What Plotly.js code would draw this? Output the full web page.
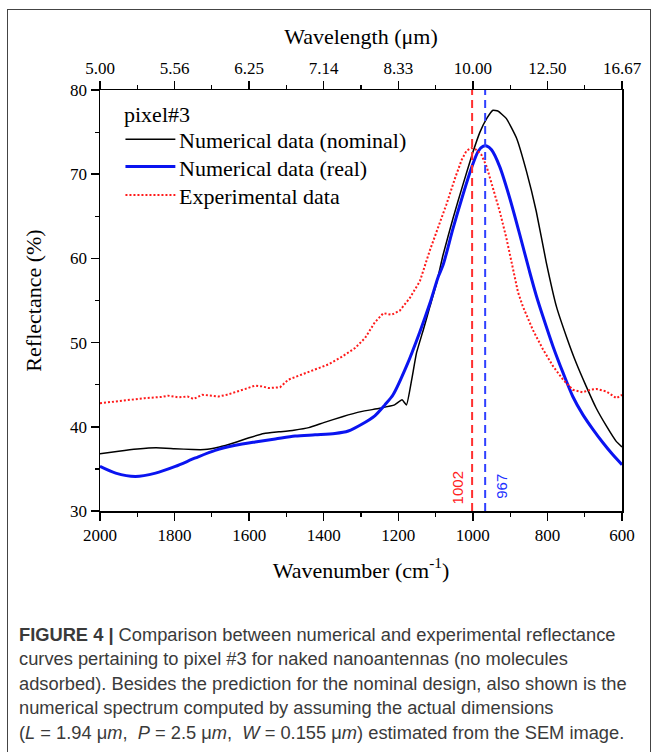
<!DOCTYPE html>
<html>
<head>
<meta charset="utf-8">
<script src="https://cdn.plot.ly/plotly-3.0.1.min.js"></script>
<style>
  html, body { margin: 0; padding: 0; background: #fff; }
  #frame { position: absolute; left: 7px; top: 9px; width: 644px; height: 800px; border: 1px solid #444; box-sizing: border-box; }
  #chart { position: absolute; left: 0; top: 0; width: 657px; height: 752px; }
</style>
</head>
<body>
<div id="frame"></div>
<div id="chart"></div>
<script>
// ---- data ----
const nominalWn = [2000,1950,1900,1850,1800,1750,1720,1680,1640,1600,1560,1520,1480,1440,1400,1350,1300,1250,1210,1190,1178,1164,1151,1133,1115,1097,1080,1053,1027,1000,981,963,946,933,910,883,856,830,803,776,749,723,696,669,642,616,600];
const nominalR  = [36.8,37.1,37.35,37.5,37.4,37.3,37.3,37.6,38.1,38.7,39.2,39.4,39.6,39.9,40.5,41.2,41.8,42.2,42.6,43.2,42.6,45.6,48.8,51.5,54.3,57.1,60.4,64.8,68.7,72.6,75.0,76.6,77.6,77.5,76.6,74.3,70.3,65.6,59.5,54.3,50.7,47.6,44.8,42.2,40.1,38.3,37.6];

const realWn = [2000,1958,1905,1851,1798,1744,1691,1637,1584,1530,1477,1423,1370,1334,1298,1263,1236,1214,1178,1142,1115,1093,1080,1053,1027,1004,986,973,963,950,928,901,874,848,830,812,785,758,732,705,678,651,625,600];
const realR  = [35.3,34.5,34.1,34.5,35.3,36.3,37.2,37.8,38.2,38.55,38.9,39.05,39.2,39.5,40.3,41.3,42.6,43.8,47.2,51.3,54.7,57.8,59.2,63.6,67.5,70.7,72.7,73.3,73.35,72.9,70.9,67.15,62.8,58.45,55.6,53.1,49.55,46.4,43.6,41.45,39.7,38.1,36.7,35.5];

const expWn = [2000,1960,1923,1880,1834,1817,1790,1765,1749,1726,1700,1682,1660,1637,1610,1584,1565,1548,1517,1495,1470,1441,1415,1388,1352,1316,1289,1263,1240,1218,1196,1169,1142,1133,1115,1097,1071,1048,1030,1017,1004,990,977,963,946,928,910,892,879,866,839,812,785,758,732,705,685,669,642,615,600];
const expR  = [42.8,43.0,43.2,43.4,43.55,43.7,43.5,43.6,43.3,43.8,43.7,43.6,43.8,44.1,44.5,44.9,44.8,44.6,44.7,45.6,46.0,46.5,46.9,47.4,48.3,49.35,50.55,52.4,53.5,53.3,53.8,55.3,57.3,58.6,61.0,63.2,66.4,69.5,71.7,72.8,73.1,72.9,72.3,70.9,68.3,65.6,62.4,58.6,56.0,54.3,51.5,49.2,47.2,45.6,44.4,44.1,44.4,44.5,44.2,43.4,43.8];

const peakWn = [1002, 967];
const peakLabels = ['1002', '967'];

const wnTicks = [2000,1800,1600,1400,1200,1000,800,600];
const wnTickLabels = ['2000','1800','1600','1400','1200','1000','800','600'];
const wlTickLabels = ['5.00','5.56','6.25','7.14','8.33','10.00','12.50','16.67'];
const rTicks = [30,40,50,60,70,80];

const seriesNames = ['Numerical data (nominal)', 'Numerical data (real)', 'Experimental data'];
const seriesColors = ['#000000', '#0a14f0', '#ff1a1a'];
const legendTitle = 'pixel#3';

const captionLines = [
  '<b>FIGURE 4 |</b> Comparison between numerical and experimental reflectance',
  'curves pertaining to pixel #3 for naked nanoantennas (no molecules',
  'adsorbed). Besides the prediction for the nominal design, also shown is the',
  'numerical spectrum computed by assuming the actual dimensions',
  '(<i>L</i> = 1.94 μ<i>m</i>,  <i>P</i> = 2.5 μ<i>m</i>,  <i>W</i> = 0.155 μ<i>m</i>) estimated from the SEM image.'
];

// ---- chart ----
const serif = 'Liberation Serif, Times New Roman, serif';
const sans = 'Liberation Sans, Arial, sans-serif';

const Lm = 99.5, Rm = 34.5, Tm = 90, Bm = 240.5, W = 657, H = 752;
const pw = W - Lm - Rm, ph = H - Tm - Bm;
const px2x = p => (p - Lm) / pw;
const px2y = p => 1 - (p - Tm) / ph;

const lineStyles = [
  { color: seriesColors[0], width: 1.5, shape: 'spline', smoothing: 0.4 },
  { color: seriesColors[1], width: 3, shape: 'spline', smoothing: 0.8 },
  { color: seriesColors[2], width: 2, dash: '2px,2px' }
];

const traces = [
  { x: nominalWn, y: nominalR, name: seriesNames[0], type: 'scatter', mode: 'lines', line: lineStyles[0] },
  { x: realWn, y: realR, name: seriesNames[1], type: 'scatter', mode: 'lines', line: lineStyles[1] },
  { x: expWn, y: expR, name: seriesNames[2], type: 'scatter', mode: 'lines', line: lineStyles[2] },
  { x: [peakWn[0], peakWn[0]], y: [30, 80], type: 'scatter', mode: 'lines', showlegend: false,
    hoverinfo: 'skip', line: { color: '#ff3030', width: 2, dash: '8px,5px' } },
  { x: [peakWn[1], peakWn[1]], y: [30, 80], type: 'scatter', mode: 'lines', showlegend: false,
    hoverinfo: 'skip', line: { color: '#3040ff', width: 2, dash: '8px,5px' } },
  // carrier so the top (wavelength) axis is drawn
  { x: nominalWn, y: nominalR, xaxis: 'x2', yaxis: 'y', type: 'scatter', mode: 'lines', showlegend: false,
    hoverinfo: 'skip', line: { color: 'rgba(0,0,0,0)', width: 0 } }
];

const annotations = [
  { x: peakWn[0], y: 32.7, xref: 'x', yref: 'y', text: peakLabels[0], textangle: -90, showarrow: false,
    xanchor: 'center', yanchor: 'middle', xshift: -15, font: { family: sans, size: 15, color: '#ff2020' } },
  { x: peakWn[1], y: 32.9, xref: 'x', yref: 'y', text: peakLabels[1], textangle: -90, showarrow: false,
    xanchor: 'center', yanchor: 'middle', xshift: 16, font: { family: sans, size: 15, color: '#2030ff' } }
];

// legend (drawn by hand for exact spacing)
const shapes = [];
annotations.push({ x: px2x(122), y: px2y(115), xref: 'paper', yref: 'paper', text: legendTitle, showarrow: false,
  xanchor: 'left', yanchor: 'middle', font: { family: serif, size: 22, color: '#000' } });
const rowY = [139.3, 166.7, 195];
seriesNames.forEach((nm, i) => {
  shapes.push({ type: 'line', xref: 'paper', yref: 'paper', x0: px2x(125), x1: px2x(175), y0: px2y(rowY[i]), y1: px2y(rowY[i]),
    line: { color: lineStyles[i].color, width: lineStyles[i].width, dash: lineStyles[i].dash || 'solid' } });
  annotations.push({ x: px2x(177), y: px2y(rowY[i] + 1.5), xref: 'paper', yref: 'paper', text: nm, showarrow: false,
    xanchor: 'left', yanchor: 'middle', font: { family: serif, size: 22, color: '#000' } });
});

const capY0 = 635, capDy = 24.5;
captionLines.forEach((t, i) => {
  annotations.push({
    x: px2x(16), y: px2y(capY0 + i * capDy), xref: 'paper', yref: 'paper', text: t, showarrow: false,
    xanchor: 'left', yanchor: 'middle', align: 'left',
    font: { family: sans, size: 18.3, color: '#3a3a3a' }
  });
});

const axisCommon = {
  tickmode: 'array', tickvals: wnTicks,
  ticks: 'outside', ticklen: 8, tickwidth: 1.5, tickcolor: '#000',
  showline: true, linewidth: 1.5, linecolor: '#000', showgrid: false, zeroline: false,
  minor: { tickmode: 'linear', tick0: 600, dtick: 100, ticks: 'outside', ticklen: 4, tickwidth: 1.2, tickcolor: '#000' },
  tickfont: { family: serif, size: 17, color: '#000' },
  automargin: false, range: [2000, 600]
};

const layout = {
  width: W, height: H,
  margin: { l: Lm, r: Rm, t: Tm, b: Bm, pad: 0 },
  paper_bgcolor: 'rgba(0,0,0,0)',
  plot_bgcolor: 'rgba(0,0,0,0)',
  font: { family: serif, color: '#000' },
  showlegend: false,
  xaxis: Object.assign({}, axisCommon, {
    ticktext: wnTickLabels,
    title: { text: 'Wavenumber (cm<sup>-1</sup>)', font: { family: serif, size: 22, color: '#000' }, standoff: 18 }
  }),
  xaxis2: Object.assign({}, axisCommon, {
    overlaying: 'x', side: 'top', anchor: 'y', ticktext: wlTickLabels,
    title: { text: 'Wavelength (μm)', font: { family: serif, size: 22, color: '#000' }, standoff: 8 }
  }),
  yaxis: {
    range: [30, 80], tickmode: 'array', tickvals: rTicks,
    ticks: 'outside', ticklen: 8, tickwidth: 1.5, tickcolor: '#000',
    showline: true, mirror: true, linewidth: 1.5, linecolor: '#000', showgrid: false, zeroline: false,
    minor: { tickmode: 'linear', tick0: 30, dtick: 5, ticks: 'outside', ticklen: 4, tickwidth: 1.2, tickcolor: '#000' },
    tickfont: { family: serif, size: 17, color: '#000' },
    title: { text: 'Reflectance (%)', font: { family: serif, size: 22, color: '#000' }, standoff: 22 },
    automargin: false
  },
  shapes: shapes,
  annotations: annotations
};

Plotly.newPlot('chart', traces, layout, { staticPlot: true, displayModeBar: false });
</script>
</body>
</html>
